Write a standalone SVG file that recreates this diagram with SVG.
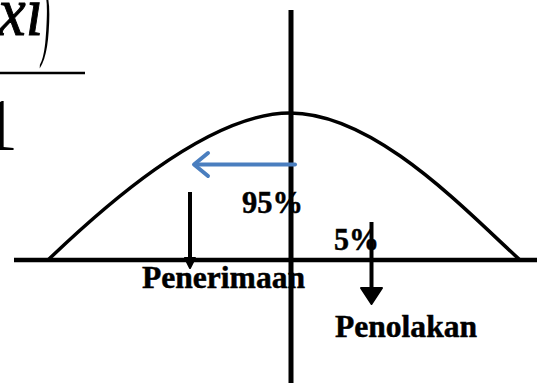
<svg xmlns="http://www.w3.org/2000/svg" width="544" height="383" viewBox="0 0 544 383">
<defs>
<style>
.lbl{font-family:"Liberation Serif","Times New Roman",serif;font-weight:bold;font-size:32px;fill:#000;stroke:#000;stroke-width:0.5}
.frm{font-family:"Liberation Serif","Times New Roman",serif;font-style:italic;fill:#000}
.ax{stroke:#000;fill:none;stroke-linecap:butt}
.blk{stroke:#000;stroke-width:4;fill:none}
.head{fill:#000;stroke:#000;stroke-width:2;stroke-linejoin:round}
.blue{stroke:#4a7ebf;stroke-width:4;fill:none;stroke-linecap:round;stroke-linejoin:round}
</style>
</defs>
<rect width="544" height="383" fill="#fff"/>
<g id="formula">
<text class="frm" x="-2" y="35" font-size="70" stroke="#000" stroke-width="1" textLength="45" lengthAdjust="spacingAndGlyphs">xi</text>
<text class="frm" transform="translate(41,49) scale(0.6,2.0)" font-size="46">)</text>
<line x1="0" y1="73" x2="85" y2="73" stroke="#000" stroke-width="2.5"/>
<text x="-19" y="150" font-family="Liberation Serif, Times New Roman, serif" font-size="74" fill="#000">1</text>
</g>
<g id="label-95"><text class="lbl" x="242" y="213" textLength="61" lengthAdjust="spacingAndGlyphs">95%</text></g>
<g id="label-5"><text class="lbl" x="334" y="250" textLength="45" lengthAdjust="spacingAndGlyphs">5%</text></g>
<g id="label-penerimaan"><text class="lbl" x="142" y="288" textLength="163" lengthAdjust="spacingAndGlyphs">Penerimaan</text></g>
<g id="label-penolakan"><text class="lbl" x="335" y="337" textLength="142" lengthAdjust="spacingAndGlyphs">Penolakan</text></g>
<g id="curve">
<path class="ax" stroke-width="3.5" d="M48,260 C95,215 205,113 290,113 C375,113 465,210 520,260"/>
</g>
<g id="axes">
<line class="ax" x1="14" y1="260" x2="537" y2="260" stroke-width="4.5"/>
<line class="ax" x1="291" y1="10" x2="291" y2="383" stroke-width="5"/>
</g>
<g id="connectors">
<line class="blue" x1="295" y1="164.5" x2="195" y2="164.5"/>
<polyline class="blue" points="208,153 194,164.5 208,176"/>
<line class="blk" x1="190" y1="192" x2="190" y2="260"/>
<polygon class="head" points="185,258 195,258 190,268"/>
<line class="blk" x1="371.5" y1="222" x2="371.5" y2="290"/>
<polygon class="head" points="361,288 382,288 371.5,304"/>
</g>
</svg>
